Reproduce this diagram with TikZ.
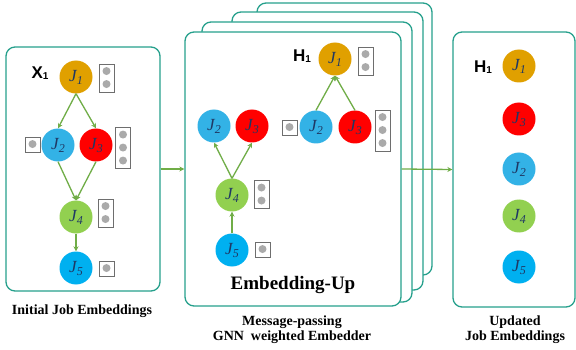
\documentclass[tikz,border=0pt]{standalone}
\usepackage{fontspec}
\setmainfont{Liberation Serif}
\newfontfamily\arialfont{Liberation Sans}
\usetikzlibrary{arrows.meta,calc}
\definecolor{panelc}{RGB}{38,160,140}
\definecolor{arrc}{RGB}{112,173,71}
\definecolor{cJa}{RGB}{224,160,0}
\definecolor{cJb}{RGB}{51,178,230}
\definecolor{cJc}{RGB}{255,0,0}
\definecolor{cJd}{RGB}{146,208,80}
\definecolor{cJe}{RGB}{0,176,240}
\definecolor{jtext}{RGB}{31,56,100}
\definecolor{vecc}{RGB}{110,110,110}
\definecolor{dotc}{RGB}{170,170,170}
\newcommand{\jl}[1]{\textit{J}\kern-0.3pt\raisebox{-3pt}{\fontsize{12}{12}\selectfont\textit{#1}}}
\newcommand{\sublbl}[1]{{\arialfont\bfseries #1\raisebox{-1.5pt}{\fontsize{10}{10}\selectfont 1}}}
\newcommand{\vecbx}[4]{%
  \node[vecbox, minimum height={13*#4+2}] (#1) at (#2,#3) {};
  \foreach \k in {1,...,#4} \fill[dotc] ($(#1.north)+(0,{1+13*(\k-0.5)})$) circle (4);
}
\tikzset{
  panel/.style={draw=panelc, line width=1.3pt, rounded corners=9pt, fill=white, inner sep=0pt},
  job/.style={circle, minimum size=33pt, inner sep=0pt, text=jtext, font=\fontsize{17}{17}\selectfont},
  vecbox/.style={draw=vecc, line width=0.9pt, fill=white, inner sep=0pt, minimum width=15pt},
  flow/.style={draw=arrc, line width=1.3pt, -{Stealth[length=5pt,width=5pt]}},
  captxt/.style={font=\fontsize{14}{15}\selectfont\bfseries, align=center},
  lbl/.style={inner sep=0pt, font=\fontsize{17}{17}\selectfont}
}
\begin{document}
\begin{tikzpicture}[x=1pt,y=-1pt]
\useasboundingbox (0,0) rectangle (576,350);
% panels
\node[panel, minimum width=154, minimum height=244] (lbox) at (83,169) {};
\node[panel, minimum width=175, minimum height=272] (bk3) at (344.5,139) {};
\node[panel, minimum width=191, minimum height=278] (bk2) at (327.5,151) {};
\node[panel, minimum width=210, minimum height=280] (bk1) at (307,162) {};
\node[panel, minimum width=216, minimum height=274] (mbox) at (293,169) {};
\node[panel, minimum width=122, minimum height=275] (rbox) at (514,169.5) {};
% flow between panels
\draw[flow] (lbox.east) -- (mbox.west);
\draw[flow] (mbox.east) -- (rbox.west);
% left panel
\node[lbl] (x1) at (40,73) {\sublbl{X}};
\node[job, fill=cJa] (a1) at (76,77) {\jl{1}};
\node[job, fill=cJb] (a2) at (58,145) {\jl{2}};
\node[job, fill=cJc] (a3) at (96,145) {\jl{3}};
\node[job, fill=cJd] (a4) at (76,217) {\jl{4}};
\node[job, fill=cJe] (a5) at (76,268) {\jl{5}};
\vecbx{va1}{106.5}{78}{2}
\vecbx{va2}{32.5}{144.5}{1}
\vecbx{va3}{123}{148}{3}
\vecbx{va4}{105.5}{213}{2}
\vecbx{va5}{106.5}{268.5}{1}
\draw[flow] (a1.south) -- (a2.north);
\draw[flow] (a1.south) -- (a3.north);
\draw[flow] (a2.south) -- (a4.north);
\draw[flow] (a3.south) -- (a4.north);
\draw[flow] (a4.south) -- (a5.north);
% middle panel
\node[lbl] (h1) at (302,56) {\sublbl{H}};
\node[job, fill=cJa] (b1) at (335,59) {\jl{1}};
\node[job, fill=cJb] (b2) at (316,127) {\jl{2}};
\node[job, fill=cJc] (b3) at (355,127) {\jl{3}};
\node[job, fill=cJb] (c2) at (214,126) {\jl{2}};
\node[job, fill=cJc] (c3) at (252,126) {\jl{3}};
\node[job, fill=cJd] (c4) at (232,195) {\jl{4}};
\node[job, fill=cJe] (c5) at (232,250) {\jl{5}};
\vecbx{vb1}{365.5}{61}{2}
\vecbx{vb2}{289.5}{127.5}{1}
\vecbx{vb3}{382.5}{130.5}{3}
\vecbx{vc4}{261.5}{194.5}{2}
\vecbx{vc5}{262.5}{249.5}{1}
\draw[flow] (b2.north) -- (b1.south);
\draw[flow] (b3.north) -- (b1.south);
\draw[flow] (c5.north) -- (c4.south);
\draw[flow] (c4.north) -- (c2.south);
\draw[flow] (c4.north) -- (c3.south);
\node[font=\fontsize{19}{19}\selectfont\bfseries] (emb) at (293,285) {Embedding-Up};
% right panel
\node[lbl] (h2) at (483,67) {\sublbl{H}};
\node[job, fill=cJa] (d1) at (519,66) {\jl{1}};
\node[job, fill=cJc] (d3) at (519,119) {\jl{3}};
\node[job, fill=cJb] (d2) at (519,169) {\jl{2}};
\node[job, fill=cJd] (d4) at (519,216) {\jl{4}};
\node[job, fill=cJe] (d5) at (519,267) {\jl{5}};
% captions
\node[captxt] (capl) at (82,311) {Initial Job Embeddings};
\node[captxt] (capm) at (292,329.5) {Message-passing\\GNN\ \ weighted Embedder};
\node[captxt] (capr) at (515,329.5) {Updated\\Job Embeddings};
\end{tikzpicture}
\end{document}
